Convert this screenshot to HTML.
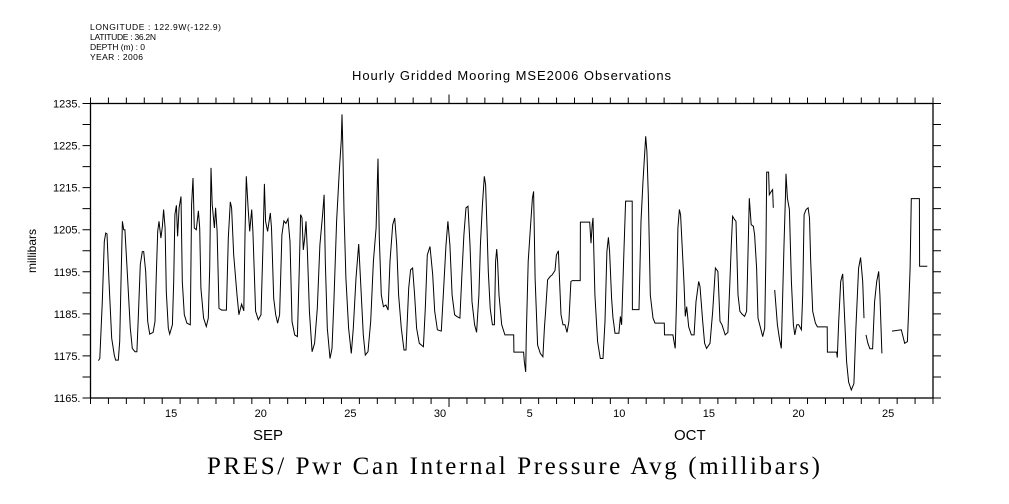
<!DOCTYPE html>
<html><head><meta charset="utf-8"><style>
html,body{margin:0;padding:0;background:#fff;}
svg{display:block;font-family:"Liberation Sans",sans-serif;}
</style></head><body>
<svg id="chart" width="1009" height="504" viewBox="0 0 1009 504" xmlns="http://www.w3.org/2000/svg">
<g font-size="8.5" fill="#000">
<text x="90" y="30" textLength="131">LONGITUDE : 122.9W(-122.9)</text>
<text x="90" y="40" textLength="66">LATITUDE : 36.2N</text>
<text x="90" y="50" textLength="55">DEPTH (m) : 0</text>
<text x="90" y="60" textLength="53">YEAR : 2006</text>
</g>
<text x="352" y="80" font-size="13" textLength="319">Hourly Gridded Mooring MSE2006 Observations</text>
<text transform="translate(36,251) rotate(-90)" text-anchor="middle" font-size="12">millibars</text>
<g id="axes"></g>
<path id="series" fill="none" stroke="#000" stroke-width="1"/>
<text x="253" y="440" font-size="15">SEP</text>
<text x="674" y="440" font-size="15">OCT</text>
<text x="207" y="474" font-family="Liberation Serif, serif" font-size="25" textLength="613">PRES/ Pwr Can Internal Pressure Avg (millibars)</text>
</svg>
<script>
// days since Sep 11 00:00
const days = [0.44,0.52,0.66,0.77,0.85,0.92,1.03,1.18,1.33,1.40,1.55,1.63,1.70,1.78,1.85,1.92,2.07,2.22,2.33,2.48,2.59,2.67,2.78,2.89,2.97,3.08,3.19,3.30,3.49,3.60,3.67,3.75,3.82,3.93,4.01,4.08,4.16,4.23,4.34,4.42,4.57,4.64,4.71,4.79,4.86,4.94,5.05,5.12,5.23,5.38,5.57,5.64,5.72,5.79,5.90,6.02,6.09,6.16,6.31,6.46,6.57,6.65,6.72,6.79,6.91,6.98,7.06,7.17,7.32,7.58,7.69,7.80,7.87,7.99,8.17,8.28,8.43,8.55,8.62,8.69,8.80,8.88,8.99,9.06,9.21,9.36,9.51,9.62,9.70,9.77,9.88,10.03,10.10,10.22,10.33,10.44,10.55,10.68,10.79,10.90,11.02,11.13,11.24,11.39,11.54,11.65,11.72,11.80,11.87,11.95,12.02,12.10,12.21,12.36,12.50,12.65,12.80,12.95,13.03,13.10,13.21,13.36,13.47,13.58,13.73,13.88,13.99,14.03,14.07,14.14,14.25,14.40,14.55,14.66,14.81,14.96,15.07,15.22,15.33,15.48,15.63,15.78,15.93,16.04,16.11,16.22,16.34,16.48,16.60,16.71,16.86,16.97,17.08,17.19,17.34,17.49,17.60,17.75,17.86,17.97,18.08,18.19,18.34,18.57,18.68,18.79,18.94,19.09,19.20,19.35,19.57,19.68,19.83,19.94,20.05,20.17,20.31,20.43,20.61,20.72,20.83,20.95,21.06,21.17,21.28,21.43,21.54,21.67,21.75,21.86,21.97,22.04,22.12,22.19,22.30,22.42,22.53,22.60,22.66,22.71,22.79,22.94,23.12,23.61,23.62,23.72,24.16,24.20,24.28,24.31,24.42,24.54,24.65,24.72,24.80,24.94,25.09,25.24,25.32,25.39,25.50,25.65,25.76,25.91,25.99,26.10,26.17,26.25,26.36,26.47,26.58,26.69,26.80,26.88,27.32,27.33,27.85,27.92,27.99,28.03,28.14,28.29,28.44,28.59,28.70,28.81,28.89,28.96,29.07,29.15,29.19,29.26,29.48,29.56,29.63,29.74,29.85,30.22,30.23,30.60,30.71,30.82,30.97,31.04,31.12,31.23,31.38,31.49,32.01,32.02,32.49,32.57,32.62,32.70,32.77,32.85,32.92,33.00,33.11,33.18,33.26,33.37,33.52,33.67,33.78,33.93,34.00,34.15,34.26,34.37,34.56,34.71,34.86,35.00,35.12,35.23,35.41,35.56,35.67,35.75,35.82,35.93,36.01,36.12,36.23,36.34,36.49,36.60,36.68,36.75,36.86,36.98,37.05,37.16,37.24,37.38,37.50,37.61,37.68,37.72,37.83,37.87,37.98,38.05,38.09,38.13,38.17,38.32,38.43,38.54,38.69,38.77,38.80,38.88,38.99,39.10,39.21,39.29,39.40,39.51,39.66,39.73,39.81,39.92,40.03,40.11,40.18,40.29,40.44,40.55,41.10,41.11,41.62,41.66,41.74,41.85,41.96,42.03,42.18,42.29,42.44,42.59,42.70,42.85,42.96,43.08,43.15,43.20,43.26,43.37,43.48,43.63,43.74,43.86,43.97,44.04,44.15,44.40,44.71,45.23,45.42,45.57,45.64,45.72,45.79,46.24,46.25,46.68];
const values = [1173.9,1174.4,1187.9,1202.2,1204.2,1204.0,1192.7,1179.2,1175.2,1174.0,1174.0,1178.4,1192.7,1207.0,1205.0,1205.0,1193.5,1181.6,1176.8,1176.0,1176.0,1184.8,1196.7,1199.8,1199.8,1195.0,1183.2,1180.2,1180.6,1183.2,1194.3,1204.6,1207.0,1203.0,1205.8,1209.8,1205.4,1190.3,1181.6,1180.2,1182.4,1192.7,1208.6,1210.8,1203.4,1210.2,1212.9,1192.7,1184.8,1182.8,1182.4,1211.0,1217.3,1205.4,1205.0,1209.5,1205.4,1191.1,1184.0,1182.0,1184.0,1195.9,1219.7,1211.0,1205.4,1210.2,1204.6,1186.3,1185.9,1185.9,1203.0,1211.6,1210.2,1199.0,1189.5,1184.8,1187.3,1185.7,1203.8,1217.7,1209.8,1204.6,1209.8,1204.6,1185.6,1183.6,1184.8,1200.6,1215.9,1207.0,1204.6,1209.0,1205.4,1188.7,1184.8,1182.8,1184.8,1203.8,1207.1,1206.5,1207.6,1202.2,1183.2,1180.0,1179.6,1195.9,1208.6,1207.8,1200.2,1203.0,1207.0,1199.8,1185.6,1176.0,1178.0,1186.3,1201.4,1208.6,1213.3,1197.5,1181.6,1174.4,1176.8,1187.9,1207.0,1218.9,1226.4,1232.4,1226.0,1209.4,1193.5,1181.6,1175.6,1181.6,1193.5,1201.6,1192.7,1180.0,1175.2,1176.0,1183.2,1197.5,1205.4,1221.9,1203.0,1189.5,1186.7,1187.1,1185.9,1197.5,1206.2,1207.8,1201.4,1189.5,1181.6,1176.4,1176.4,1191.1,1195.5,1195.9,1189.5,1181.6,1178.0,1177.2,1186.3,1199.0,1201.0,1194.3,1185.6,1181.2,1180.9,1189.5,1201.4,1207.0,1201.4,1189.5,1184.8,1184.4,1184.0,1194.3,1203.8,1210.2,1210.6,1201.4,1187.9,1182.4,1180.6,1189.5,1201.4,1210.8,1217.7,1215.7,1205.4,1195.1,1186.3,1182.4,1182.4,1197.5,1200.4,1197.5,1189.5,1182.4,1180.0,1180.0,1175.9,1175.9,1175.9,1173.7,1171.2,1180.0,1197.5,1205.4,1212.5,1214.1,1193.5,1177.6,1175.6,1174.8,1181.6,1185.6,1193.1,1193.9,1194.3,1195.3,1199.0,1200.0,1192.7,1184.8,1182.4,1182.4,1180.6,1183.2,1192.7,1192.9,1192.9,1206.8,1206.8,1201.8,1206.2,1207.8,1189.5,1178.4,1174.4,1174.4,1183.2,1199.8,1203.2,1199.8,1188.7,1184.0,1182.8,1180.4,1180.4,1184.4,1182.4,1197.5,1211.8,1211.8,1186.0,1186.0,1207.0,1216.5,1227.2,1223.6,1213.3,1189.5,1184.0,1182.8,1182.8,1180.0,1180.0,1178.0,1176.8,1189.5,1205.4,1209.8,1208.5,1201.8,1192.3,1184.4,1186.7,1181.9,1180.0,1180.0,1187.9,1192.7,1191.5,1183.2,1178.0,1176.8,1178.0,1185.6,1195.9,1195.1,1183.2,1182.4,1180.0,1180.6,1192.7,1201.4,1208.2,1207.4,1207.0,1189.5,1185.6,1185.0,1184.4,1185.6,1199.4,1212.5,1206.2,1205.8,1203.8,1195.9,1184.0,1181.6,1179.6,1181.6,1199.0,1218.7,1218.7,1213.3,1214.1,1214.5,1210.2,null,1190.7,1182.4,1179.2,1176.8,1201.4,1213.3,1218.3,1212.5,1209.8,1192.7,1182.4,1180.0,1182.4,1182.4,1181.2,1189.5,1208.6,1209.8,1210.2,1207.8,1197.5,1185.6,1182.8,1181.9,1181.9,1175.9,1175.9,1174.6,1183.2,1192.7,1194.5,1187.9,1173.6,1168.8,1166.9,1168.4,1181.6,1195.9,1198.4,1192.7,1184.0,null,1180.0,1178.0,1176.7,1176.7,1187.9,1192.7,1195.1,1189.5,1175.6,null,1180.9,1181.2,1178.0,1178.4,1185.6,1195.9,1212.4,1212.4,1196.3,1196.3];
const yTicks = [1165,1175,1185,1195,1205,1215,1225,1235];
const xTickLabels = ["15","20","25","30","5","10","15","20","25"];
const xTickDays = [4,9,14,19,24,29,34,39,44];

const X0=90.5, X1=933, Y0=103.5, Y1=398, D0=0, D1=47, V0=1165, V1=1235;
const xs = d => X0 + (d-D0)/(D1-D0)*(X1-X0);
const ys = v => Y1 - (v-V0)/(V1-V0)*(Y1-Y0);
const NS="http://www.w3.org/2000/svg";
const axes=document.getElementById('axes');
function mk(tag, attrs){const e=document.createElementNS(NS,tag);for(const k in attrs)e.setAttribute(k,attrs[k]);return e;}

const frame=mk('rect',{x:X0,y:Y0,width:X1-X0,height:Y1-Y0,fill:'none',stroke:'#000','stroke-width':1.3});


axes.appendChild(frame);

let tp='';
for(let v=V0; v<=V1; v+=5){const y=ys(v);tp+=`M${X0-8},${y}H${X0}M${X1},${y}H${X1+8}`;}
for(let d=0; d<=D1; d++){const x=xs(d);const L=(d===20)?9:6;tp+=`M${x},${Y0-L}V${Y0}M${x},${Y1}V${Y1+L}`;}
const ticks=mk('path',{d:tp,stroke:'#000','stroke-width':1,fill:'none'});


axes.appendChild(ticks);

yTicks.forEach(v=>{
  const t=mk('text',{x:X0-10,y:ys(v)+4,'text-anchor':'end','font-size':11});
  t.textContent=v+'.';
  
  
  axes.appendChild(t);
});
xTickLabels.forEach((s,i)=>{
  const t=mk('text',{x:xs(xTickDays[i]+0.5),y:417,'text-anchor':'middle','font-size':11});
  t.textContent=s;
  
  
  axes.appendChild(t);
});

let d='', pen=false;
for(let i=0;i<days.length;i++){
  if(values[i]===null){pen=false;continue;}
  d+=(pen?'L':'M')+xs(days[i]).toFixed(1)+','+ys(values[i]).toFixed(1);
  pen=true;
}
document.getElementById('series').setAttribute('d',d);
</script>
</body></html>
